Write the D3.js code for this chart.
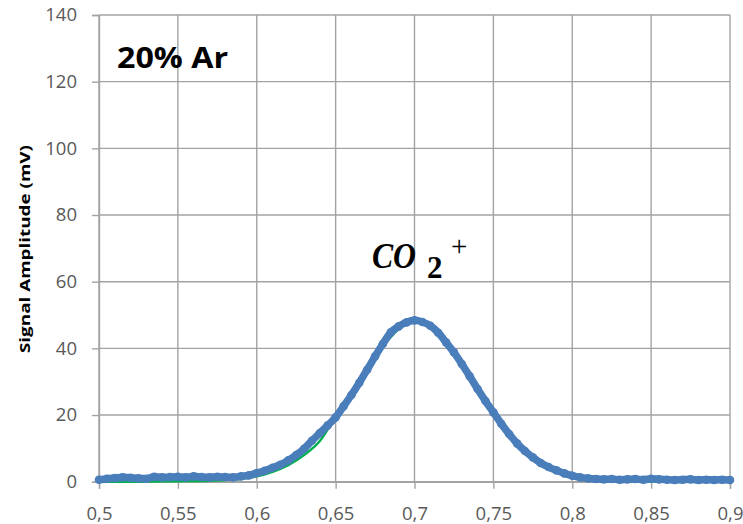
<!DOCTYPE html>
<html>
<head>
<meta charset="utf-8">
<script src="https://cdn.jsdelivr.net/npm/d3@7"></script>
<style>
  html, body { margin: 0; padding: 0; background: #fff; }
  svg { display: block; }
  .tick text { font-family: "Open Sans", sans-serif; font-size: 18.5px; fill: #595959; }
</style>
</head>
<body>
<svg id="chart" width="743" height="524"></svg>
<script>
// signal (mV) at each retention value
var scanX = [
  0.500,0.505,0.510,0.515,0.520,0.525,0.530,0.535,0.540,0.545,
  0.550,0.555,0.560,0.565,0.570,0.575,0.580,0.585,0.590,0.595,
  0.600,0.605,0.610,0.615,0.620,0.625,0.630,0.635,0.640,0.645,
  0.650,0.655,0.660,0.665,0.670,0.675,0.680,0.685,0.690,0.695,
  0.700,0.705,0.710,0.715,0.720,0.725,0.730,0.735,0.740,0.745,
  0.750,0.755,0.760,0.765,0.770,0.775,0.780,0.785,0.790,0.795,
  0.800,0.805,0.810,0.815,0.820,0.825,0.830,0.835,0.840,0.845,
  0.850,0.855,0.860,0.865,0.870,0.875,0.880,0.885,0.890,0.895,0.900
];
var signal = [
  0.6,0.9,1.1,1.3,1.2,1.0,0.9,1.5,1.3,1.4,
  1.5,1.3,1.6,1.4,1.3,1.5,1.4,1.3,1.6,1.9,
  2.6,3.3,4.2,5.1,6.4,8.0,9.9,12.3,14.6,16.9,
  19.3,22.6,26.0,29.7,33.6,37.6,41.4,44.8,46.6,47.8,
  48.4,47.9,46.8,44.7,41.8,38.8,35.3,31.6,27.8,24.2,
  20.8,17.4,14.3,11.5,9.2,7.3,5.6,4.4,3.4,2.5,
  1.8,1.3,1.0,0.8,0.7,0.8,0.6,0.7,0.8,0.6,
  0.9,0.7,0.6,0.5,0.6,0.7,0.5,0.6,0.5,0.6,0.5
];
// fitted curve (green)
var fitX = [
  0.50,0.52,0.54,0.56,0.57,0.58,0.59,0.60,0.61,0.62,0.63,0.64,0.65,0.66,0.67,0.68,0.69,
  0.70,0.71,0.72,0.73,0.74,0.75,0.76,0.77,0.78,0.79,0.80,0.81,0.82,0.83,0.84,0.86,0.90
];
var fit = [
  0.0,0.0,0.1,0.2,0.3,0.5,0.9,1.6,3.0,5.0,8.0,12.2,19.5,26.8,34.0,40.6,45.8,
  48.2,46.8,41.9,35.3,27.8,20.9,14.8,9.8,6.1,3.7,2.1,1.2,0.6,0.3,0.1,0.0,0.0
];
var xTicks = [0.5,0.55,0.6,0.65,0.7,0.75,0.8,0.85,0.9];
var xTickLabels = ["0,5","0,55","0,6","0,65","0,7","0,75","0,8","0,85","0,9"];
var yTicks = [0,20,40,60,80,100,120,140];

var svg = d3.select('#chart'),
    plotLeft = 99, plotRight = 730, plotTop = 15, plotBottom = 481.7;

var x = d3.scaleLinear().domain([0.5,0.9]).range([plotLeft,plotRight]);
var y = d3.scaleLinear().domain([0,140]).range([plotBottom,plotTop]);

// grid
var grid = svg.append('g').attr('class','grid');
grid.selectAll('line.v').data(xTicks).enter().append('line')
  .attr('x1',function(d){ return x(d); }).attr('x2',function(d){ return x(d); })
  .attr('y1',plotTop).attr('y2',plotBottom);
grid.selectAll('line.h').data(yTicks).enter().append('line')
  .attr('x1',plotLeft).attr('x2',plotRight)
  .attr('y1',function(d){ return y(d); }).attr('y2',function(d){ return y(d); });
grid.selectAll('line').attr('stroke','#a3a3a3').attr('stroke-width',1.4);

// axes (ticks outside, labels only)
var yAxis = svg.append('g').attr('transform','translate('+plotLeft+',0)')
  .call(d3.axisLeft(y).tickValues(yTicks).tickSize(7).tickPadding(15));
var xAxis = svg.append('g').attr('transform','translate(0,'+plotBottom+')')
  .call(d3.axisBottom(x).tickValues(xTicks).tickSize(7).tickPadding(18)
    .tickFormat(function(d,i){ return xTickLabels[i]; }));
[yAxis,xAxis].forEach(function(a){
  a.select('.domain').attr('stroke','#a3a3a3').attr('stroke-width',1.4);
  a.selectAll('.tick line').attr('stroke','#a3a3a3').attr('stroke-width',1.4);
});

// fitted line
var fitLine = d3.line().x(function(d,i){ return x(fitX[i]); }).y(function(d){ return y(d); })
  .curve(d3.curveMonotoneX);
svg.append('path').datum(fit).attr('d',fitLine)
  .attr('fill','none').attr('stroke','#00b050').attr('stroke-width',2.5);

// measured signal
var sigLine = d3.line().x(function(d,i){ return x(scanX[i]); }).y(function(d){ return y(d); })
  .curve(d3.curveMonotoneX);
svg.append('path').datum(signal).attr('d',sigLine)
  .attr('fill','none').attr('stroke','#4a7ebb').attr('stroke-width',7.5)
  .attr('stroke-linejoin','round').attr('stroke-linecap','round');
svg.append('g').selectAll('circle').data(signal).enter().append('circle')
  .attr('cx',function(d,i){ return x(scanX[i]); })
  .attr('cy',function(d){ return y(d); })
  .attr('r',4.3).attr('fill','#4a7ebb');

// texts
svg.append('text').attr('transform','translate(30,249) rotate(-90)')
  .attr('text-anchor','middle')
  .attr('font-family','"Open Sans", sans-serif').attr('font-weight','bold')
  .attr('font-size',14.5).attr('fill','#000')
  .attr('textLength',208).attr('lengthAdjust','spacingAndGlyphs')
  .text('Signal Amplitude (mV)');

svg.append('text').attr('x',117).attr('y',68)
  .attr('font-family','"Open Sans", sans-serif').attr('font-weight','bold')
  .attr('font-size',29).attr('fill','#000')
  .attr('textLength',111).attr('lengthAdjust','spacingAndGlyphs')
  .text('20% Ar');

var co2 = svg.append('g').attr('font-family','"Liberation Serif", serif').attr('fill','#000');
co2.append('text').attr('x',372).attr('y',268)
  .attr('font-style','italic').attr('font-weight','bold')
  .attr('font-size',35).attr('textLength',44).attr('lengthAdjust','spacingAndGlyphs')
  .text('CO');
co2.append('text').attr('x',427).attr('y',278)
  .attr('font-weight','bold').attr('font-size',31).text('2');
co2.append('text').attr('x',451).attr('y',256)
  .attr('font-size',29).text('+');
</script>
</body>
</html>
